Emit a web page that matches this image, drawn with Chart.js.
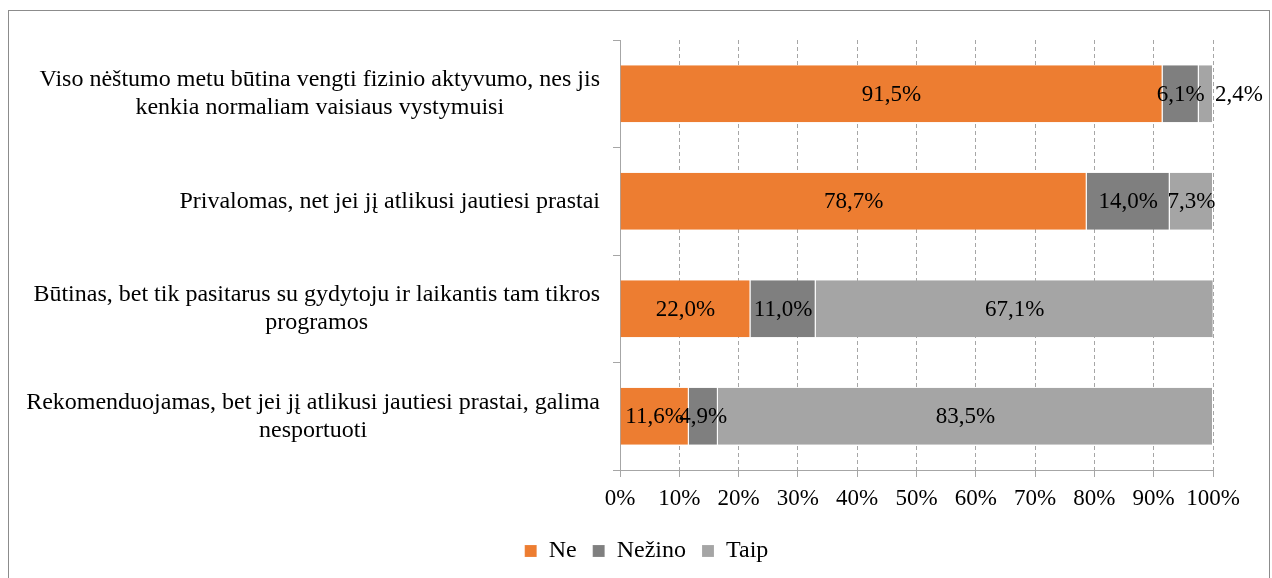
<!DOCTYPE html>
<html lang="lt">
<head>
<meta charset="utf-8">
<title>Fizinis aktyvumas nėštumo metu</title>
<script src="https://cdn.jsdelivr.net/npm/chart.js@4.4.1/dist/chart.umd.min.js"></script>
<style>
    html, body { margin: 0; padding: 0; background: #fff; }
    #wrap { width: 1272px; height: 578px; }
</style>
</head>
<body>
<div id="wrap"><canvas id="chart" width="1272" height="578"></canvas></div>
<script>
// Kategorijos (iš viršaus į apačią), kiekviena eilutė atskirai
const categories = [
    ['Viso nėštumo metu būtina vengti fizinio aktyvumo, nes jis', 'kenkia normaliam vaisiaus vystymuisi'],
    ['Privalomas, net jei jį atlikusi jautiesi prastai'],
    ['Būtinas, bet tik pasitarus su gydytoju ir laikantis tam tikros', 'programos'],
    ['Rekomenduojamas, bet jei jį atlikusi jautiesi prastai, galima', 'nesportuoti']
];

// Reikšmės procentais
const ne = [91.5, 78.7, 22.0, 11.6];
const nezino = [6.1, 14.0, 11.0, 4.9];
const taip = [2.4, 7.3, 67.1, 83.5];

const seriesNames = ['Ne', 'Nežino', 'Taip'];
const seriesColors = ['#ED7D31', '#7F7F7F', '#A5A5A5'];

// Ašies žymės
const xTicks = [0, 10, 20, 30, 40, 50, 60, 70, 80, 90, 100];

const FONT = '"Liberation Serif", "Times New Roman", serif';
const LABEL_SIZE = 24;
const TICK_SIZE = 23;

// --- Rėmelis aplink visą diagramą ---
const framePlugin = {
    id: 'frame',
    beforeDraw(chart) {
        const ctx = chart.ctx;
        ctx.save();
        ctx.fillStyle = '#fff';
        ctx.fillRect(0, 0, chart.width, chart.height);
        ctx.strokeStyle = '#8c8c8c';
        ctx.lineWidth = 1;
        ctx.strokeRect(8.5, 10.5, 1261, 620);
        ctx.restore();
    },
    // legenda centruojama pagal visą paveikslą, ne pagal braižymo sritį
    afterLayout(chart) {
        const lg = chart.legend;
        if (lg) {
            const shift = 40;
            lg.left += shift;
            lg.right += shift;
        }
    }
};

// --- Kategorijų pavadinimai: blokas lygiuojamas dešinėje, eilutės centre ---
const categoryLabels = {
    id: 'categoryLabels',
    afterDraw(chart) {
        const ctx = chart.ctx;
        const yScale = chart.scales.y;
        const right = yScale.right - 20;
        const lineH = 28;
        ctx.save();
        ctx.font = LABEL_SIZE + 'px ' + FONT;
        ctx.fillStyle = '#000';
        ctx.textAlign = 'center';
        ctx.textBaseline = 'middle';
        categories.forEach((lines, i) => {
            const maxW = Math.max(...lines.map(l => ctx.measureText(l).width));
            const cx = right - maxW / 2;
            const cy = yScale.getPixelForValue(i);
            const top = cy - (lines.length - 1) * lineH / 2;
            lines.forEach((l, j) => ctx.fillText(l, cx, top + j * lineH));
        });
        ctx.restore();
    }
};

// --- Reikšmių etiketės segmentų viduryje ---
const valueLabels = {
    id: 'valueLabels',
    afterDatasetsDraw(chart) {
        const ctx = chart.ctx;
        const last = chart.data.datasets.length - 1;
        ctx.save();
        ctx.font = TICK_SIZE + 'px ' + FONT;
        ctx.fillStyle = '#000';
        ctx.textBaseline = 'middle';
        chart.data.datasets.forEach((ds, di) => {
            const meta = chart.getDatasetMeta(di);
            meta.data.forEach((bar, i) => {
                const txt = ds.data[i].toFixed(1).replace('.', ',') + '%';
                const w = ctx.measureText(txt).width;
                const segW = Math.abs(bar.x - bar.base);
                if (di === last && w > segW * 2) {
                    // labai siauras paskutinis segmentas - etiketė už juostos
                    ctx.textAlign = 'left';
                    ctx.fillText(txt, bar.x + 2, bar.y + 1);
                } else {
                    ctx.textAlign = 'center';
                    ctx.fillText(txt, (bar.x + bar.base) / 2, bar.y + 1);
                }
            });
        });
        ctx.restore();
    }
};

const datasets = [ne, nezino, taip].map((vals, i) => ({
    label: seriesNames[i],
    data: vals,
    backgroundColor: seriesColors[i],
    borderColor: 'rgba(255,255,255,0.6)',
    borderWidth: { left: 0, right: 1, top: 0, bottom: 0 },
    barPercentage: 0.53,
    categoryPercentage: 1.0
}));

document.addEventListener('DOMContentLoaded', () => {
    const ctx = document.getElementById('chart');
    new Chart(ctx, {
        type: 'bar',
        data: {
            labels: categories.map(c => c.join(' ')),
            datasets: datasets
        },
        options: {
            indexAxis: 'y',
            responsive: false,
            animation: false,
            layout: {
                padding: { top: 40, right: 59, bottom: 5, left: 0 }
            },
            plugins: {
                legend: {
                    position: 'bottom',
                    labels: {
                        boxWidth: 12,
                        boxHeight: 12,
                        padding: 16,
                        color: '#000',
                        font: { family: FONT, size: LABEL_SIZE }
                    }
                },
                tooltip: { enabled: false }
            },
            scales: {
                x: {
                    stacked: true,
                    min: 0,
                    max: 100,
                    afterBuildTicks: scale => {
                        scale.ticks = xTicks.map(v => ({ value: v }));
                    },
                    ticks: {
                        color: '#000',
                        padding: 8,
                        maxRotation: 0,
                        font: { family: FONT, size: TICK_SIZE },
                        callback: v => v + '%'
                    },
                    grid: {
                        color: '#a6a6a6',
                        tickLength: 7,
                        tickBorderDash: [],
                        tickColor: '#a6a6a6'
                    },
                    border: { display: true, color: '#a6a6a6', dash: [4, 3] },
                    afterFit: scale => { scale.height = 53; }
                },
                y: {
                    stacked: true,
                    ticks: { display: false },
                    grid: {
                        offset: true,
                        drawOnChartArea: false,
                        drawTicks: true,
                        tickLength: 7,
                        color: '#a6a6a6'
                    },
                    border: { display: true, color: '#a6a6a6' },
                    afterFit: scale => { scale.width = 620; }
                }
            }
        },
        plugins: [framePlugin, categoryLabels, valueLabels]
    });
});
</script>
</body>
</html>
